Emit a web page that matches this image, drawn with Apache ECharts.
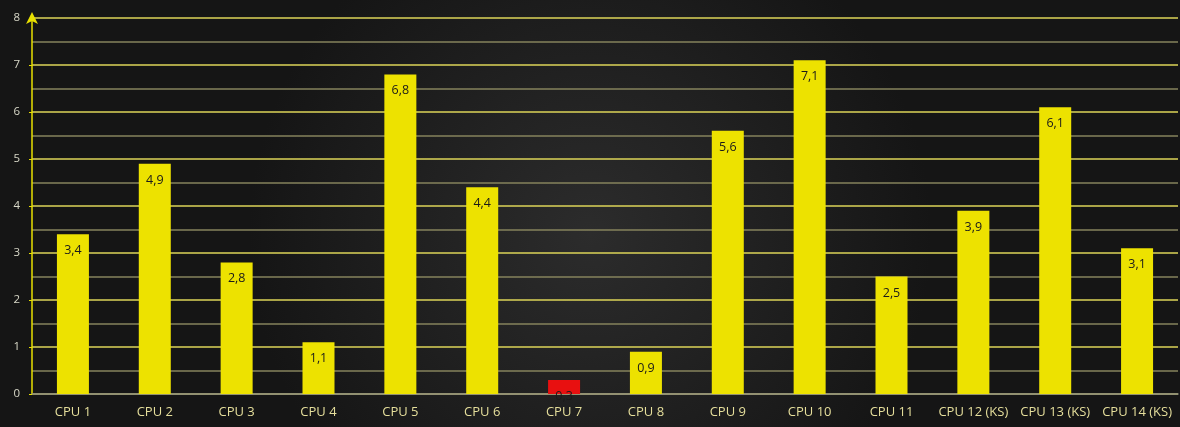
<!DOCTYPE html>
<html><head><meta charset="utf-8">
<script src="https://cdn.jsdelivr.net/npm/echarts@6/dist/echarts.min.js"></script>
<style>html,body{margin:0;padding:0;background:#1a1a1a;}#c{width:1180px;height:427px;}</style>
</head><body><div id="c"></div>
<script>
const categories = ['CPU 1','CPU 2','CPU 3','CPU 4','CPU 5','CPU 6','CPU 7','CPU 8','CPU 9','CPU 10','CPU 11','CPU 12 (KS)','CPU 13 (KS)','CPU 14 (KS)'];
const values = [3.4, 4.9, 2.8, 1.1, 6.8, 4.4, 0.3, 0.9, 5.6, 7.1, 2.5, 3.9, 6.1, 3.1];
const highlightIndex = [6];
const yTicks = [0,1,2,3,4,5,6,7,8];

const chart = echarts.init(document.getElementById('c'));
chart.setOption({
  backgroundColor: {
    type: 'radial', x: 0.5, y: 0.55, r: 0.8,
    colorStops: [{offset: 0, color: '#2c2c2c'}, {offset: 1, color: '#151515'}]
  },
  grid: {left: 32, right: 2, top: 18, bottom: 33},
  xAxis: {
    type: 'category', data: categories,
    axisLine: {lineStyle: {color: '#8a8a80', width: 1.5}},
    axisTick: {show: false},
    axisLabel: {interval: 0, color: '#e6df9c', fontSize: 13, fontFamily: 'Open Sans', margin: 12}
  },
  yAxis: {
    type: 'value', min: 0, max: 8, interval: 1,
    axisLine: {show: true, lineStyle: {color: '#e8e000', width: 1.5}, symbol: ['none', 'arrow'], symbolSize: [9, 12], symbolOffset: [0, 6]},
    axisTick: {show: true, length: 3, lineStyle: {color: '#e8e000'}},
    axisLabel: {color: '#d8d8c8', fontSize: 11.5, fontFamily: 'Open Sans', margin: 12,
      formatter: v => yTicks.includes(v) ? String(v) : ''},
    splitLine: {show: true, lineStyle: {color: '#dcd458', width: 1.5}},
    minorTick: {show: false, splitNumber: 2},
    minorSplitLine: {show: true, lineStyle: {color: '#85835c', width: 1.5}}
  },
  series: [{
    type: 'bar',
    barWidth: 32,
    data: values.map((v, i) => ({
      value: v,
      itemStyle: {color: highlightIndex.includes(i) ? '#e81010' : '#ede200'}
    })),
    label: {
      show: true, position: 'insideTop', distance: 10,
      color: '#1a1a1a', fontSize: 12.5, fontFamily: 'Open Sans',
      formatter: p => String(p.value).replace('.', ',')
    }
  }]
});
</script></body></html>
